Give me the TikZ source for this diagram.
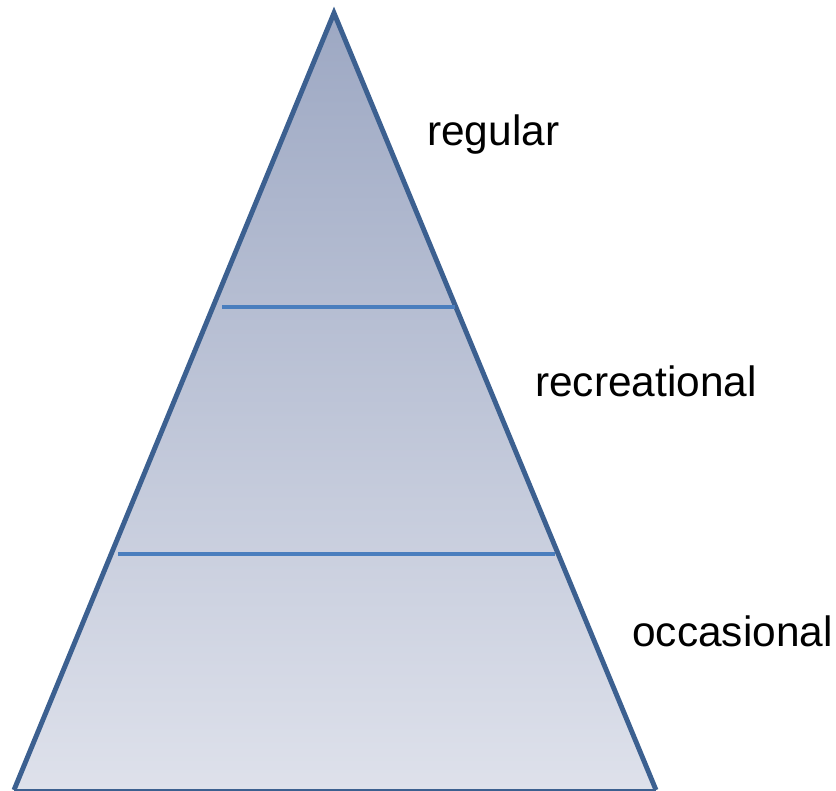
\documentclass[tikz,border=0pt]{standalone}
\usepackage{fontspec}
\setmainfont{Liberation Sans}
\usetikzlibrary{positioning}
\definecolor{rimblue}{HTML}{3C6090}
\definecolor{tierblue}{HTML}{4A7EBE}
\definecolor{toptone}{HTML}{9DA8C3}
\definecolor{basetone}{HTML}{DEE1EB}

\begin{document}
\begin{tikzpicture}[x=0.03cm, y=-0.03cm,
                       rim/.style={draw=rimblue, line width=4.2pt, line join=miter},
                       tier/.style={draw=tierblue, line width=4.2pt},
                       level/.style={anchor=base west, inner sep=0pt, font=\fontsize{36.2}{40}\selectfont}]
        \useasboundingbox (0,0) rectangle (836,791);
        % Corners of the pyramid
        \coordinate (apex) at (334,13);
        \coordinate (baseL) at (14,790);
        \coordinate (baseR) at (656,790);
        \shade[top color=toptone, bottom color=basetone] (apex) -- (baseR) -- (baseL) -- cycle;
        \draw[rim] (baseL) -- (apex) -- (baseR);
        \draw[draw=rimblue, line width=1.5pt] (baseL) -- (baseR);
        % Tier boundaries
        \coordinate (upL) at (222,307);
        \coordinate (upR) at (455,307);
        \coordinate (lowL) at (118,554);
        \coordinate (lowR) at (555,554);
        \draw[tier] (upL) -- (upR);
        \draw[tier] (lowL) -- (lowR);
        % Labels
        \node[level] (regular) at (427,146) {regular};
        \node[level] (recreational) at (535,396) {recreational};
        \node[level] (occasional) at (632,646) {occasional};
    \end{tikzpicture}
\end{document}
